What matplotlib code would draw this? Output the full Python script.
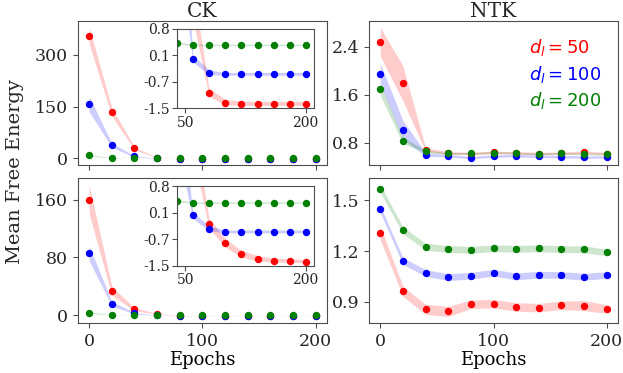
import matplotlib
matplotlib.use("Agg")
import matplotlib.pyplot as plt
from matplotlib.lines import Line2D
import numpy as np

plt.rcParams['font.family'] = 'serif'
plt.rcParams['axes.edgecolor'] = '0.3'
plt.rcParams['xtick.color'] = '0.3'
plt.rcParams['ytick.color'] = '0.3'
plt.rcParams['xtick.labelcolor'] = '0.15'
plt.rcParams['ytick.labelcolor'] = '0.15'
plt.rcParams['text.color'] = '0.15'

# data
epochs = [0, 20, 40, 60, 80, 100, 120, 140, 160, 180, 200]
widths = [50, 100, 200]
colors = ['red', 'blue', 'green']

# CK, top row
ck1_mean = [
    [355, 134, 29, 1.6, -1.045, -1.336, -1.37, -1.375, -1.375, -1.375, -1.375],
    [157, 38, 5.5, -0.074, -0.472, -0.52, -0.52, -0.52, -0.52, -0.52, -0.52],
    [9, 1.2, 0.39, 0.334, 0.334, 0.334, 0.334, 0.334, 0.334, 0.334, 0.334],
]
ck1_std = [
    [24, 12, 4, 0.5, 0.12, 0.08, 0.06, 0.06, 0.06, 0.06, 0.06],
    [22, 6, 2, 0.1, 0.07, 0.04, 0.04, 0.04, 0.04, 0.04, 0.04],
    [2, 0.5, 0.03, 0.02, 0.02, 0.02, 0.02, 0.02, 0.02, 0.02, 0.02],
]
# CK, bottom row
ck2_mean = [
    [160, 34, 8.3, 2.3, -0.28, -0.84, -1.16, -1.30, -1.35, -1.36, -1.38],
    [85.5, 16, 3, -0.04, -0.43, -0.52, -0.52, -0.52, -0.52, -0.52, -0.52],
    [4, 0.5, 0.38, 0.33, 0.33, 0.33, 0.33, 0.33, 0.33, 0.33, 0.33],
]
ck2_std = [
    [20, 6, 2, 0.5, 0.15, 0.12, 0.1, 0.08, 0.06, 0.05, 0.05],
    [10, 3, 1, 0.1, 0.07, 0.04, 0.04, 0.04, 0.04, 0.04, 0.04],
    [1, 0.3, 0.03, 0.02, 0.02, 0.02, 0.02, 0.02, 0.02, 0.02, 0.02],
]
# NTK, top row
ntk1_mean = [
    [2.48, 1.79, 0.69, 0.635, 0.625, 0.645, 0.635, 0.625, 0.63, 0.645, 0.625],
    [1.95, 1.02, 0.606, 0.59, 0.556, 0.584, 0.59, 0.578, 0.573, 0.567, 0.567],
    [1.69, 0.84, 0.66, 0.628, 0.628, 0.64, 0.634, 0.617, 0.628, 0.617, 0.617],
]
ntk1_std = [
    [0.24, 0.29, 0.03, 0.02, 0.02, 0.02, 0.02, 0.02, 0.02, 0.02, 0.02],
    [0.17, 0.15, 0.03, 0.02, 0.02, 0.02, 0.02, 0.02, 0.02, 0.02, 0.02],
    [0.10, 0.05, 0.02, 0.015, 0.015, 0.015, 0.015, 0.015, 0.015, 0.015, 0.015],
]
# NTK, bottom row
ntk2_mean = [
    [1.307, 0.961, 0.855, 0.843, 0.885, 0.889, 0.869, 0.865, 0.879, 0.877, 0.857],
    [1.447, 1.141, 1.070, 1.046, 1.054, 1.072, 1.050, 1.060, 1.058, 1.048, 1.058],
    [1.569, 1.323, 1.226, 1.212, 1.208, 1.216, 1.214, 1.216, 1.212, 1.210, 1.192],
]
ntk2_std = [
    [0.04, 0.03, 0.03, 0.03, 0.025, 0.025, 0.025, 0.025, 0.025, 0.03, 0.025],
    [0.02, 0.02, 0.02, 0.02, 0.02, 0.02, 0.02, 0.02, 0.02, 0.02, 0.02],
    [0.022, 0.02, 0.02, 0.02, 0.02, 0.02, 0.02, 0.02, 0.02, 0.02, 0.02],
]


def draw(ax, means, stds, ms=4.3):
    x = np.array(epochs)
    for m, s, c in zip(means, stds, colors):
        m = np.array(m)
        s = np.array(s)
        ax.fill_between(x, m - s, m + s, color=c, alpha=0.2, lw=0)
        ax.plot(x, m, 'o', color=c, ms=ms)


fig, axes = plt.subplots(2, 2, figsize=(6.23, 3.73), dpi=100)
plt.subplots_adjust(left=0.125, right=0.992, top=0.944, bottom=0.134,
                    wspace=0.169, hspace=0.09)

draw(axes[0, 0], ck1_mean, ck1_std)
draw(axes[1, 0], ck2_mean, ck2_std)
draw(axes[0, 1], ntk1_mean, ntk1_std)
draw(axes[1, 1], ntk2_mean, ntk2_std)

axes[0, 0].set_yticks([0, 150, 300])
axes[1, 0].set_yticks([0, 80, 160])
axes[0, 1].set_yticks([0.8, 1.6, 2.4])
axes[1, 1].set_yticks([0.9, 1.2, 1.5])

for ax in axes.flat:
    ax.set_xlim(-10, 210)
    ax.set_xticks([0, 100, 200])
    ax.tick_params(labelsize=12.5)
for ax in axes[0]:
    ax.set_xticklabels([])
for ax in axes[1]:
    ax.set_xlabel("Epochs", fontsize=13, labelpad=1)

axes[0, 0].set_title("CK", fontsize=14.5, pad=2.5)
axes[0, 1].set_title("NTK", fontsize=14.5, pad=2.5)
fig.text(0.024, 0.539, "Mean Free Energy", rotation=90, fontsize=14,
         ha='center', va='center')

# insets
for ax, means, stds in [(axes[0, 0], ck1_mean, ck1_std), (axes[1, 0], ck2_mean, ck2_std)]:
    ins = ax.inset_axes([0.399, 0.396, 0.548, 0.549])
    draw(ins, means, stds)
    ins.set_xlim(40, 210)
    ins.set_ylim(-1.5, 0.8)
    ins.set_xticks([50, 200])
    ins.set_yticks(np.linspace(-1.5, 0.8, 4))
    ins.set_yticklabels(["-1.5", "-0.7", "0.1", "0.8"])
    ins.tick_params(labelsize=10, pad=2)

handles = [Line2D([], [], ls='none') for c in colors]
labels = ["$d_l = %d$" % w for w in widths]
axes[0, 1].legend(handles, labels, loc='upper right', frameon=False,
                  handlelength=0, handletextpad=0, fontsize=13,
                  labelcolor=colors, labelspacing=0.3)

plt.savefig("out.png")
